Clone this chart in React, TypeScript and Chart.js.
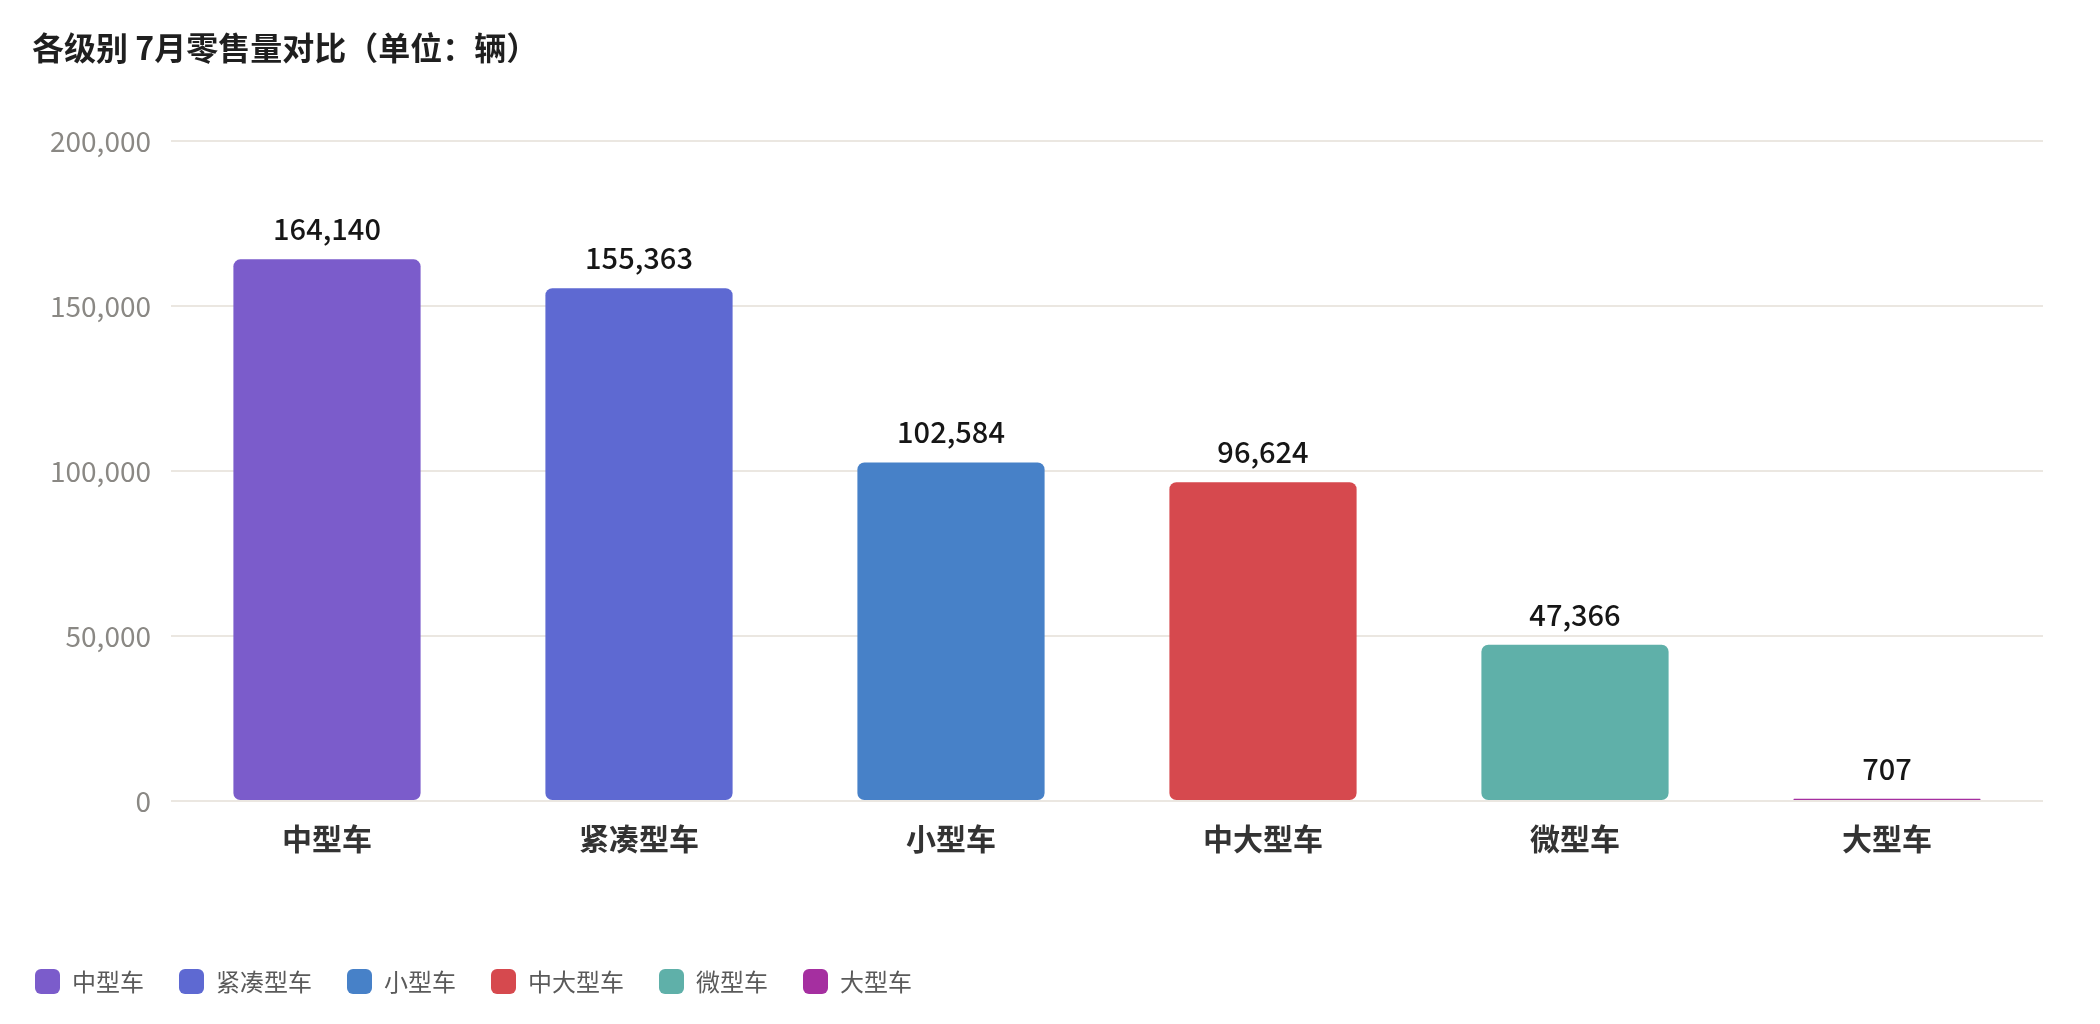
import React, { useEffect, useRef } from "react";
import { Chart, registerables } from "chart.js";

Chart.register(...registerables);

const titleText = "各级别 7月零售量对比（单位：辆）";
const categories = ["中型车", "紧凑型车", "小型车", "中大型车", "微型车", "大型车"];
const values = [164140, 155363, 102584, 96624, 47366, 707];
const barColors = ["#7b5ccb", "#5e69d2", "#4781c8", "#d6494e", "#5fb0a9", "#a52fa0"];
const yTicks = [0, 50000, 100000, 150000, 200000];

const FONT = "'Noto Sans CJK SC', 'Noto Sans', sans-serif";

const fmt = (v: number) => v.toLocaleString("en-US");

const titlePlugin = {
  id: "customTitle",
  afterDraw(chart: any) {
    const ctx = chart.ctx;
    ctx.save();
    ctx.font = `bold 32px ${FONT}`;
    ctx.fillStyle = "#1f1f1f";
    ctx.textAlign = "left";
    ctx.textBaseline = "middle";
    ctx.fillText(titleText, 32, 48);
    ctx.restore();
  },
};

const valueLabelPlugin = {
  id: "valueLabels",
  afterDatasetsDraw(chart: any) {
    const ctx = chart.ctx;
    const meta = chart.getDatasetMeta(0);
    ctx.save();
    ctx.font = `500 29px ${FONT}`;
    ctx.fillStyle = "#161616";
    ctx.textAlign = "center";
    ctx.textBaseline = "alphabetic";
    meta.data.forEach((bar: any, i: number) => {
      ctx.fillText(fmt(values[i]), bar.x, bar.y - 19);
    });
    ctx.restore();
  },
};

export default function App() {
  const ref = useRef<HTMLCanvasElement | null>(null);
  useEffect(() => {
    if (!ref.current) return;
    const chart = new Chart(ref.current, {
      type: "bar",
      data: {
        labels: categories,
        datasets: [
          {
            label: "零售量",
            data: values,
            backgroundColor: barColors,
            borderRadius: 7,
            borderSkipped: false,
            categoryPercentage: 1,
            barPercentage: 0.6,
          },
        ],
      },
      options: {
        responsive: false,
        animation: false,
        devicePixelRatio: 1,
        layout: { padding: { top: 141, left: 0, right: 57, bottom: 20 } },
        plugins: {
          title: { display: false },
          tooltip: { enabled: false },
          legend: {
            display: true,
            position: "bottom",
            align: "start",
            labels: {
              boxWidth: 25,
              boxHeight: 25,
              padding: 35,
              useBorderRadius: true,
              borderRadius: 6,
              color: "#5a5a5a",
              font: { family: FONT, size: 24 },
              generateLabels: () =>
                categories.map((c, i) => ({
                  text: c,
                  fillStyle: barColors[i],
                  strokeStyle: barColors[i],
                  lineWidth: 0,
                  hidden: false,
                  index: i,
                  datasetIndex: 0,
                  fontColor: "#5a5a5a",
                  borderRadius: 6,
                })),
            },
          },
        },
        scales: {
          x: {
            grid: { display: false, drawTicks: false },
            border: { display: false },
            ticks: {
              color: "#333333",
              padding: 20,
              font: { family: FONT, size: 30, weight: "bold" },
              maxRotation: 0,
            },
            afterFit: (scale: any) => {
              scale.height = 133;
            },
          },
          y: {
            min: 0,
            max: 200000,
            grid: { color: "#ebe7e1", lineWidth: 2, drawTicks: false },
            border: { display: false },
            afterBuildTicks: (scale: any) => {
              scale.ticks = yTicks.map((v) => ({ value: v }));
            },
            ticks: {
              color: "#8a8884",
              padding: 20,
              font: { family: FONT, size: 28 },
              callback: (v: any) => fmt(Number(v)),
            },
            afterFit: (scale: any) => {
              scale.width = 171;
            },
          },
        },
      },
      plugins: [titlePlugin, valueLabelPlugin],
    });
    return () => chart.destroy();
  }, []);
  return (
    <div style={{ position: "absolute", left: 0, top: 0, width: 2100, height: 1024, background: "#ffffff" }}>
      <canvas ref={ref} width={2100} height={1024} style={{ display: "block" }} />
    </div>
  );
}
